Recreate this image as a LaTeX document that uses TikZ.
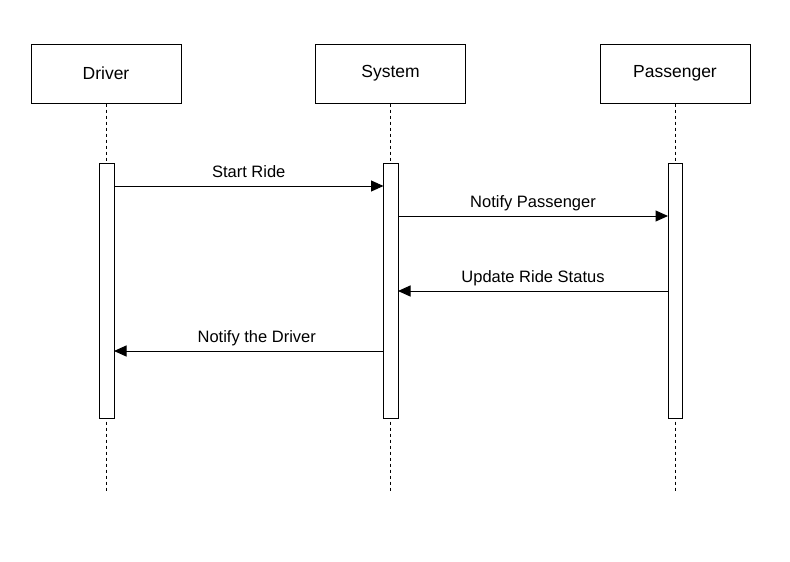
\documentclass[tikz,border=0pt]{standalone}
\usepackage{fontspec}
\setmainfont{Liberation Sans}
\usetikzlibrary{arrows.meta}
\begin{document}
\begin{tikzpicture}[x=1pt,y=-1pt,
  actor/.style={draw,line width=1pt,minimum width=150pt,minimum height=59pt,inner sep=0pt,font=\fontsize{17.5}{20}\selectfont},
  life/.style={draw,line width=1pt,dash pattern=on 3pt off 3pt},
  act/.style={draw,line width=1pt,fill=white},
  msg/.style={draw,line width=1pt,-{Triangle[length=12.5pt,width=11pt]}},
  lbl/.style={font=\fontsize{16.5}{19}\selectfont,inner sep=0pt,anchor=base,yshift=9pt}]
\useasboundingbox (0,0) rectangle (790,562);
\node[actor] (d) at (106,73.5) {Driver};
\node[actor] (s) at (390.5,73.5) {System};
\node[actor] (p) at (675,73.5) {Passenger};
\coordinate (de) at (106,493);
\coordinate (se) at (390.5,493);
\coordinate (pe) at (675,493);
\draw[life] (d.south) -- (de);
\draw[life] (s.south) -- (se);
\draw[life] (p.south) -- (pe);
\draw[act] (99,163) rectangle (114,418);
\draw[act] (383.5,163) rectangle (398,418);
\draw[act] (668,163) rectangle (682.5,418);
\coordinate (a1) at (114,186); \coordinate (b1) at (383.5,186);
\coordinate (a2) at (398,216); \coordinate (b2) at (668,216);
\coordinate (a3) at (668,291); \coordinate (b3) at (398,291);
\coordinate (a4) at (383.5,351); \coordinate (b4) at (114,351);
\draw[msg] (a1) -- node[lbl] (l1) {Start Ride} (b1);
\draw[msg] (a2) -- node[lbl] (l2) {Notify Passenger} (b2);
\draw[msg] (a3) -- node[lbl] (l3) {Update Ride Status} (b3);
\draw[msg] (a4) -- node[lbl,xshift=8pt] (l4) {Notify the Driver} (b4);
\end{tikzpicture}
\end{document}
